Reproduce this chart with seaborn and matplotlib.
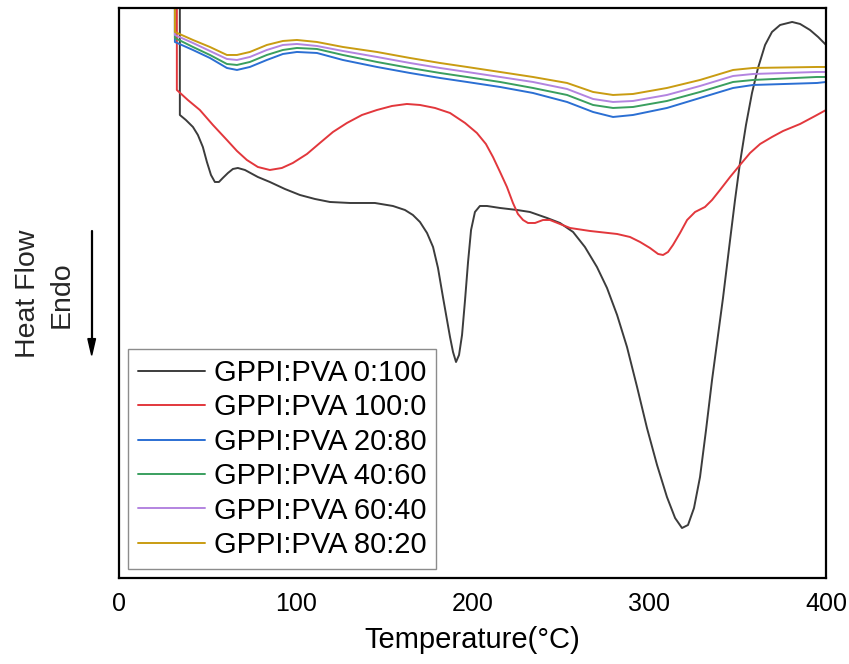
import pandas as pd
import matplotlib.pyplot as plt
import seaborn as sns

# datos (flujo de calor en unidades arbitrarias)
temp_0_100 = [34.5, 34.5, 37.9, 41.9, 44.7, 47.5, 49.8, 52.1, 54.3, 56.6, 58.8, 61.7, 64.5, 67.3,
              71.3, 78.6, 85.4, 93.9, 102.4, 110.9, 119.4, 130.7, 144.8, 155.0, 161.8, 166.3,
              170.3, 174.3, 177.7, 180.5, 183.3, 185.6, 187.3, 189.0, 190.7, 192.4, 194.1, 195.8,
              197.5, 199.2, 201.4, 204.2, 208.2, 215.6, 225.2, 232.5, 242.2, 249.5, 256.9, 263.6,
              270.4, 276.1, 281.8, 287.4, 293.1, 298.7, 304.4, 310.0, 314.6, 318.5, 321.9, 325.3,
              328.7, 332.1, 335.5, 338.9, 341.7, 345.7, 348.5, 351.3, 354.7, 358.1, 361.5, 365.5,
              369.4, 374.0, 380.8, 385.3, 390.9, 395.5, 400.0]
hf_0_100 = [5.80, 4.63, 4.58, 4.51, 4.43, 4.31, 4.16, 4.03, 3.96, 3.96, 4.00, 4.05, 4.09, 4.10,
            4.08, 4.01, 3.96, 3.89, 3.83, 3.79, 3.76, 3.75, 3.75, 3.72, 3.68, 3.63,
            3.56, 3.45, 3.31, 3.10, 2.81, 2.58, 2.41, 2.26, 2.16, 2.23, 2.43, 2.78,
            3.16, 3.48, 3.66, 3.72, 3.72, 3.70, 3.68, 3.66, 3.60, 3.55, 3.46, 3.31,
            3.11, 2.90, 2.63, 2.31, 1.91, 1.50, 1.13, 0.81, 0.60, 0.50, 0.53, 0.70,
            1.01, 1.48, 1.98, 2.43, 2.80, 3.38, 3.78, 4.15, 4.53, 4.85, 5.10, 5.33,
            5.46, 5.53, 5.56, 5.54, 5.48, 5.41, 5.33]

temp_100_0 = [32.8, 32.8, 39.0, 45.8, 53.2, 61.1, 66.8, 72.4, 78.6, 85.4, 92.2, 98.4, 106.4,
              113.7, 121.1, 129.0, 137.5, 146.0, 154.5, 162.9, 170.3, 178.8, 187.3, 195.8,
              202.5, 207.6, 211.6, 215.6, 219.5, 222.9, 225.7, 228.6, 231.4, 235.4, 239.9,
              243.8, 249.5, 255.2, 266.5, 281.8, 289.1, 294.8, 300.4, 305.0, 307.8, 310.6,
              313.4, 317.4, 321.4, 325.9, 331.5, 335.5, 340.0, 345.7, 351.3, 357.0, 362.7,
              369.4, 375.7, 385.3, 393.8, 400.0]
hf_100_0 = [5.80, 4.88, 4.78, 4.68, 4.53, 4.38, 4.27, 4.18, 4.11, 4.08, 4.10, 4.15, 4.24,
            4.35, 4.46, 4.55, 4.63, 4.68, 4.72, 4.74, 4.73, 4.70, 4.65, 4.55,
            4.45, 4.34, 4.21, 4.06, 3.91, 3.75, 3.64, 3.58, 3.55, 3.55, 3.58,
            3.58, 3.54, 3.50, 3.47, 3.44, 3.41, 3.36, 3.30, 3.24, 3.23, 3.26,
            3.33, 3.45, 3.58, 3.66, 3.71, 3.78, 3.88, 4.01, 4.13, 4.25, 4.34,
            4.41, 4.47, 4.54, 4.62, 4.68]

temp_mix = [31.7, 31.7, 41.9, 51.5, 61.1, 66.8, 74.1, 83.7, 92.8, 100.7, 112.0, 126.7, 146.0,
            164.6, 181.6, 196.9, 215.6, 234.2, 253.5, 268.2, 279.5, 290.8, 310.0, 328.7,
            347.4, 358.7, 394.9, 400.0]
hf_20_80 = [5.80, 5.36, 5.28, 5.20, 5.10, 5.08, 5.11, 5.18, 5.24, 5.26, 5.25, 5.18, 5.11,
            5.05, 5.00, 4.96, 4.91, 4.85, 4.76, 4.66, 4.61, 4.63, 4.70, 4.80,
            4.90, 4.93, 4.95, 4.96]
hf_40_60 = [5.80, 5.40, 5.31, 5.23, 5.14, 5.13, 5.16, 5.23, 5.28, 5.30, 5.29, 5.23, 5.16,
            5.10, 5.05, 5.01, 4.96, 4.90, 4.83, 4.73, 4.70, 4.71, 4.77, 4.86,
            4.96, 4.98, 5.01, 5.01]
hf_60_40 = [5.80, 5.43, 5.35, 5.27, 5.19, 5.18, 5.21, 5.28, 5.33, 5.34, 5.32, 5.27, 5.21,
            5.15, 5.10, 5.06, 5.01, 4.96, 4.89, 4.79, 4.76, 4.77, 4.83, 4.92,
            5.02, 5.04, 5.06, 5.06]
hf_80_20 = [5.80, 5.46, 5.38, 5.31, 5.23, 5.23, 5.26, 5.33, 5.37, 5.38, 5.36, 5.31, 5.26,
            5.20, 5.15, 5.11, 5.06, 5.01, 4.95, 4.86, 4.83, 4.84, 4.90, 4.98,
            5.08, 5.10, 5.11, 5.11]

etiquetas = ['GPPI:PVA 0:100', 'GPPI:PVA 100:0', 'GPPI:PVA 20:80',
             'GPPI:PVA 40:60', 'GPPI:PVA 60:40', 'GPPI:PVA 80:20']
colores = ['#3c3c3c', '#e2373c', '#2b6fd3', '#3a9f5f', '#b384e0', '#c99c12']

series = [(temp_0_100, hf_0_100), (temp_100_0, hf_100_0), (temp_mix, hf_20_80),
          (temp_mix, hf_40_60), (temp_mix, hf_60_40), (temp_mix, hf_80_20)]

frames = []
for etiqueta, (t, h) in zip(etiquetas, series):
    frames.append(pd.DataFrame({'Temperatura': t, 'Flujo': h, 'Muestra': etiqueta}))
df = pd.concat(frames, ignore_index=True)

sns.set_theme(style="white")
plt.rcParams['font.family'] = ['Liberation Sans', 'DejaVu Sans']

fig = plt.figure(figsize=(8.49, 6.64), dpi=100)
ax = fig.add_axes([0.140, 0.1295, 0.833, 0.8585])

sns.lineplot(data=df, x='Temperatura', y='Flujo', hue='Muestra', hue_order=etiquetas,
             palette=dict(zip(etiquetas, colores)), sort=False, estimator=None,
             linewidth=1.4, ax=ax)

ax.set_xlim(0, 400)
ax.set_ylim(0, 5.70)
ax.set_xticks([0, 100, 200, 300, 400])
ax.set_yticks([])
ax.tick_params(axis='x', labelsize=18, length=0, pad=10, colors='black')
ax.set_xlabel('Temperature(°C)', fontsize=21, labelpad=7, color='black')
ax.set_ylabel('')
for s in ax.spines.values():
    s.set_color('black')
    s.set_linewidth(1.6)

leg = ax.legend(loc='lower left', fontsize=21, frameon=True, fancybox=False,
                edgecolor='#707070', handlelength=2.3, handletextpad=0.3,
                labelspacing=0.22, borderpad=0.35, borderaxespad=0.3, labelcolor='black')
leg.get_frame().set_linewidth(1.0)

# etiqueta del eje y con flecha
fig.text(0.033, 0.557, 'Heat Flow', rotation=90, fontsize=20.5, ha='center', va='center')
fig.text(0.073, 0.557, 'Endo', rotation=90, fontsize=20.5, ha='center', va='center')
fig.add_artist(plt.Line2D([0.108, 0.108], [0.652, 0.49], transform=fig.transFigure,
                          color='black', linewidth=1.6))
fig.patches.append(plt.Polygon([[0.1035, 0.49], [0.1125, 0.49], [0.108, 0.465]],
                               closed=True, transform=fig.transFigure, color='black'))

plt.savefig('out.png', dpi=100)
